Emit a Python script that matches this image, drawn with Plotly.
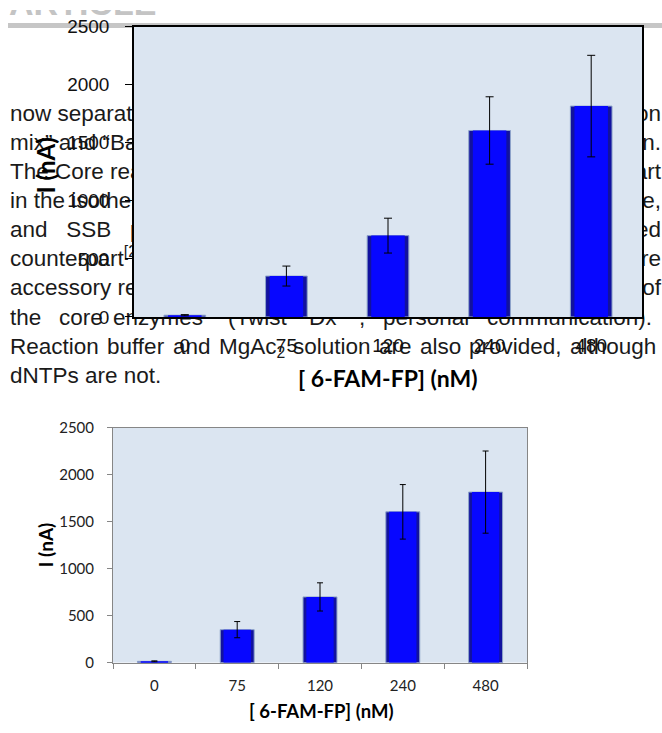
import plotly.graph_objects as go

# ---------------- data ----------------
conc_labels = ["0", "75", "120", "240", "480"]
current_nA = [15, 352, 700, 1605, 1815]
current_err = [5, 86, 150, 290, 437]
y_tick_vals = [0, 500, 1000, 1500, 2000, 2500]
x_title = "<b>[ 6-FAM-FP] (nM)</b>"
y_title = "<b>I (nA)</b>"

# article text of the page, partly hidden behind the upper copy of the chart
text_left = [
    "now separated into two",
    "mix”\u00a0and\u00a0“Basic E-mix”",
    "The Core reaction mix",
    "in the isothermal amplification",
    "and\u00a0\u00a0 SSB\u00a0\u00a0 proteins",
    "counterpart<sup>[2]</sup> reagents",
    "accessory reagents",
]
text_right = ["reaction", "shown in.", "take part", "recombinase,", "related", "are", "of"]
line8_words = ["the", "core", "enzymes", "(Twist", "Dx<sup>™</sup>", ",", "personal", "communication)."]
line9_words = ["Reaction", "buffer", "and", "MgAc<sub>2</sub>", "solution", "are", "also", "provided,", "although"]
line10 = "dNTPs are not."

# word starting positions (page px) for the two justified lines
line8_x = [13, 62, 116, 231, 312, 362, 386, 490]
line9_x = [13, 110, 176, 222, 296, 382, 423, 472, 573]

W, H = 662, 733
TXT_FONT = "Liberation Sans, Arial, sans-serif"
XL_FONT = "Lato, Open Sans, sans-serif"
TXT_SIZE = 22.5

def xd(a, b):
    return [a / W, b / W]

def yd(top, bottom):
    return [1 - bottom / H, 1 - top / H]

fig = go.Figure()

# ---------- page layer (full-paper subplot, drawn first = underneath) ----------
y0, dy = 108, 30
xs, ys, ts, ps = [], [], [], []
for i, t in enumerate(text_left):
    xs.append(10); ys.append(y0 + i * dy); ts.append(t); ps.append("middle right")
for i, t in enumerate(text_right):
    xs.append(661); ys.append(y0 + i * dy); ts.append(t); ps.append("middle left")
for x, t in zip(line8_x, line8_words):
    xs.append(x - 3); ys.append(y0 + 7 * dy); ts.append(t); ps.append("middle right")
for x, t in zip(line9_x, line9_words):
    xs.append(x - 3); ys.append(y0 + 8 * dy); ts.append(t); ps.append("middle right")
xs.append(10); ys.append(y0 + 9 * dy); ts.append(line10); ps.append("middle right")

fig.add_trace(go.Scatter(
    x=xs, y=ys, text=ts, mode="text", textposition=ps,
    textfont=dict(family=TXT_FONT, size=TXT_SIZE, color="#1a1a1a"),
    hoverinfo="skip", showlegend=False, xaxis="x", yaxis="y",
))
fig.add_trace(go.Scatter(
    x=[9], y=[-4], text=["<b>ARTICLE</b>"], mode="text", textposition="middle right",
    textfont=dict(family=TXT_FONT, size=34, color="#c4c4c4"),
    hoverinfo="skip", showlegend=False, xaxis="x", yaxis="y",
))
fig.add_shape(type="line", xref="x", yref="y", x0=8, x1=662, y0=16, y1=16,
              line=dict(color="#c6c6c6", width=5), layer="below")

# ---------- chart traces ----------
def add_bars(xa, ya, capw):
    fig.add_trace(go.Bar(
        x=conc_labels, y=current_nA, width=0.41,
        marker=dict(color="#12129e", line=dict(color="#8ea5c9", width=1)),
        hoverinfo="skip", showlegend=False, xaxis=xa, yaxis=ya,
    ))
    fig.add_trace(go.Bar(
        x=conc_labels, y=current_nA, width=0.33,
        marker=dict(color="#0707ff", line=dict(width=0)),
        error_y=dict(type="data", array=current_err, color="black", thickness=1, width=capw),
        hoverinfo="skip", showlegend=False, xaxis=xa, yaxis=ya,
    ))

add_bars("x2", "y2", 4)
add_bars("x3", "y3", 3)

for xr, yr in (("x2", "y2"), ("x3", "y3")):
    fig.add_shape(type="rect", xref=xr, yref=yr, x0=-0.5, x1=4.5, y0=0, y1=2500,
                  fillcolor="#dbe5f1", line=dict(width=0), layer="below")

# ---------- titles (annotations in page pixel coords) ----------
fig.add_annotation(x=388, y=379, xref="x", yref="y", text=x_title, showarrow=False,
                   font=dict(family=XL_FONT, size=23, color="black"))
fig.add_annotation(x=45, y=160, xref="x", yref="y", text=y_title, showarrow=False, textangle=-90,
                   font=dict(family=XL_FONT, size=24, color="black"))
fig.add_annotation(x=321, y=722, xref="x", yref="y", text=x_title, showarrow=False,
                   font=dict(family=XL_FONT, size=18.5, color="black"))
fig.add_annotation(x=45, y=551, xref="x", yref="y", text=y_title, showarrow=False, textangle=-90,
                   font=dict(family=XL_FONT, size=19, color="black"))

fig.update_layout(
    width=W, height=H, margin=dict(l=0, r=0, t=0, b=0, pad=0),
    paper_bgcolor="white", plot_bgcolor="rgba(0,0,0,0)",
    barmode="overlay", showlegend=False,
    xaxis=dict(domain=[0, 1], range=[0, W], visible=False, fixedrange=True),
    yaxis=dict(domain=[0, 1], range=[H, 0], visible=False, fixedrange=True),
    xaxis2=dict(domain=xd(134, 642), anchor="y2", type="category", range=[-0.5, 4.5],
                showline=True, linecolor="black", linewidth=1.5, mirror=True,
                ticks="", showgrid=False, zeroline=False, ticklabelstandoff=11,
                tickfont=dict(family=TXT_FONT, size=19, color="#111")),
    yaxis2=dict(domain=yd(17, 316), anchor="x2", range=[0, 2500], tickvals=y_tick_vals,
                showline=True, linecolor="black", linewidth=1.5, mirror=True,
                ticks="outside", ticklen=7, tickcolor="black", showgrid=False, zeroline=False,
                ticklabelstandoff=12,
                tickfont=dict(family=TXT_FONT, size=19, color="#111")),
    xaxis3=dict(domain=xd(113, 527), anchor="y3", type="category", range=[-0.5, 4.5],
                showline=True, linecolor="#868686", linewidth=1, mirror=True,
                ticks="outside", tickson="boundaries", ticklen=5, tickcolor="#868686",
                showgrid=False, zeroline=False, ticklabelstandoff=9,
                tickfont=dict(family=XL_FONT, size=15, color="#222")),
    yaxis3=dict(domain=yd(430, 672), anchor="x3", range=[0, 2500], tickvals=y_tick_vals,
                showline=True, linecolor="#868686", linewidth=1, mirror=True,
                ticks="outside", ticklen=5, tickcolor="#868686", showgrid=False, zeroline=False,
                ticklabelstandoff=10,
                tickfont=dict(family=XL_FONT, size=15, color="#222")),
)

fig.write_html(
    "out.html",
    config={"responsive": False, "displayModeBar": False},
    post_script="document.body.style.margin='0';document.body.style.overflow='hidden';",
)
